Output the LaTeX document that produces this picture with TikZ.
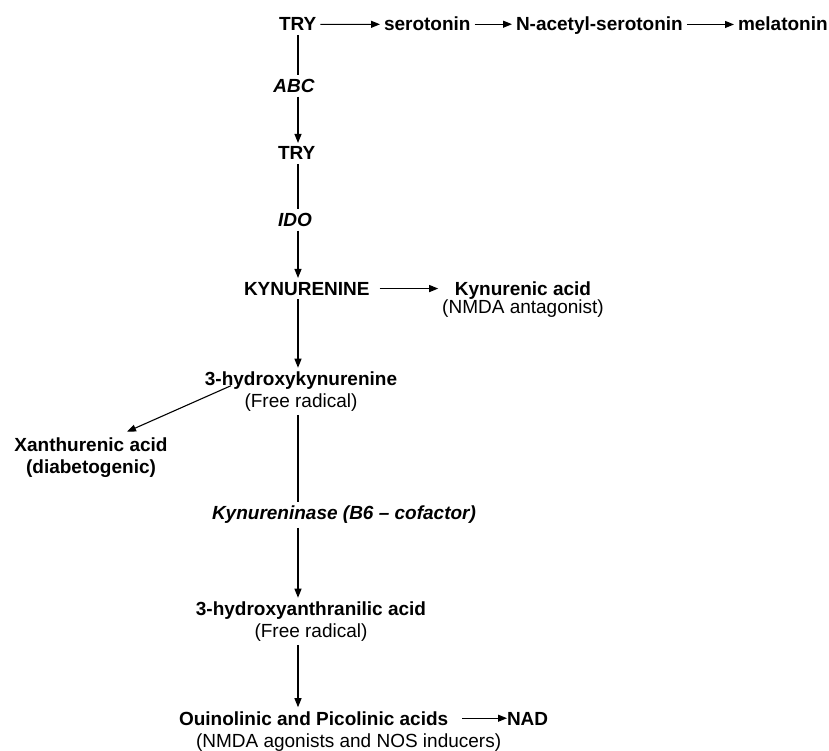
\documentclass[tikz,border=0pt]{standalone}
\usepackage{fontspec}
\setmainfont{Liberation Sans}
\usetikzlibrary{arrows.meta,calc}
\newcommand{\chemfont}{\fontsize{19}{21.5}\selectfont}

\begin{document}
\begin{tikzpicture}[x=1pt,y=-1pt,
    chem/.style={font=\chemfont\bfseries,inner sep=0pt,outer sep=4pt},
    note/.style={font=\chemfont,inner sep=0pt,outer sep=4pt},
    enz/.style={font=\chemfont\bfseries\itshape,inner sep=0pt,outer sep=4pt},
    arr/.style={-{Triangle[length=9pt,width=7pt]},line width=1.1pt},
    link/.style={line width=1.1pt}]
  \useasboundingbox (0,0) rectangle (829,751);
  \coordinate (spine) at (298,0); % the main vertical line

  % serotonin branch
  \node[chem,anchor=base west] (try)  at (275,31) {TRY};
  \node[chem,anchor=base west] (sero) at (380,31) {serotonin};
  \node[chem,anchor=base west] (nas)  at (512,31) {N-acetyl-serotonin};
  \node[chem,anchor=base west] (mela) at (734,31) {melatonin};
  \draw[arr] (try) -- (sero);
  \draw[arr] (sero.east) -- (sero.east -| nas.west);
  \draw[arr] (nas.east |- try) -- (mela.west |- try);

  % kynurenine pathway (base of a two-line node = its second line)
  \node[enz] (abc) at (294,86) {ABC};
  \node[chem,anchor=base west] (try2) at (274,160) {TRY};
  \node[enz] (ido) at (295,220) {IDO};
  \node[chem,anchor=base west] (kyn) at (240,295) {KYNURENINE};
  \node[chem,align=center,anchor=base,font=\fontsize{19}{18}\selectfont\bfseries]
    (kacid) at (523,313) {Kynurenic acid\\\mdseries(NMDA antagonist)};
  \node[chem,align=center,anchor=base] (hk) at (301,407)
    {3-hydroxykynurenine\\\mdseries(Free radical)};
  \node[chem,align=center,anchor=base] (xa) at (91,473)
    {Xanthurenic acid\\(diabetogenic)};
  \node[enz] (kase) at (344,515) {Kynureninase (B6 – cofactor)};
  \node[chem,align=center,anchor=base] (haa) at (311,637)
    {3-hydroxyanthranilic acid\\\mdseries(Free radical)};
  \node[chem,anchor=base west] (quin) at (175,725) {Ouinolinic and Picolinic acids};
  \node[note,anchor=base west] (quinnote) at (192,747) {(NMDA agonists and NOS inducers)};
  \node[chem,anchor=base west] (nad) at (503,725) {NAD};

  \draw[link] (try.south -| spine) -- (abc.north -| spine);
  \draw[arr] (abc.south -| spine) -- (try2.north -| spine);
  \draw[link] (try2.south -| spine) -- (ido.north -| spine);
  \draw[arr] (ido.south -| spine) -- (kyn.north -| spine);
  \draw[arr,shorten <=6pt] (kyn.east) -- (kyn.east -| kacid.west);
  \draw[arr] (kyn.south -| spine) -- (hk.north -| spine);
  \draw[arr] ($(hk.north west)+(30,18)$) -- ($(xa.north)+(36,-2)$);
  \draw[link] (hk.south -| spine) -- (kase.north -| spine);
  \draw[arr] (kase.south -| spine) -- (haa.north -| spine);
  \draw[arr] (haa.south -| spine) -- (quin.north -| spine);
  \draw[arr,shorten <=10pt] (quin.east) -- (quin.east -| nad.text);
\end{tikzpicture}
\end{document}
